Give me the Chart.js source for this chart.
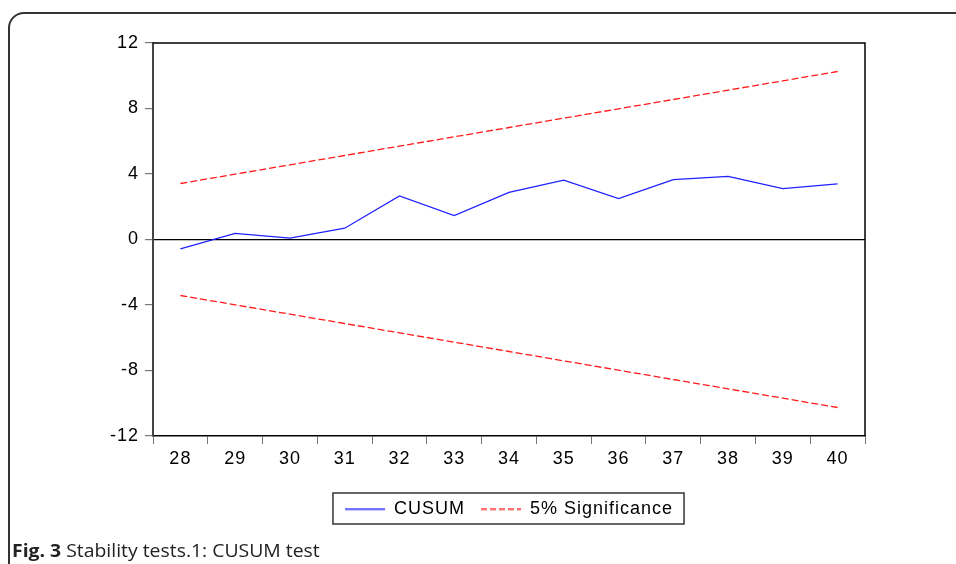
<!DOCTYPE html>
<html lang="en">
<head>
    <meta charset="UTF-8">
    <title>CUSUM test</title>
    <script src="https://cdn.jsdelivr.net/npm/chart.js"></script>
    <style>
        body { margin: 0; background: #fff; }
        #wrap { position: relative; width: 956px; height: 564px; overflow: hidden; }
        #frame {
            position: absolute; left: 8px; top: 12px; width: 1200px; height: 800px;
            border: 2px solid #333; border-radius: 16px; box-sizing: border-box;
        }
        #chart { position: absolute; left: 0; top: 0; }
        #caption {
            position: absolute; left: 12px; top: 538px; white-space: nowrap;
            font-family: "Open Sans", sans-serif; font-size: 18px; color: #222;
            transform-origin: 0 0;
        }
        #caption b { font-weight: 700; }
    </style>
</head>
<body>
    <div id="wrap">
        <div id="frame"></div>
        <canvas id="chart" width="956" height="564"></canvas>
        <div id="caption"><b>Fig. 3</b> Stability tests.1: CUSUM test</div>
    </div>
    <script>
        const periods = ['28', '29', '30', '31', '32', '33', '34', '35', '36', '37', '38', '39', '40'];
        const cusum = [-0.57, 0.37, 0.08, 0.69, 2.66, 1.46, 2.88, 3.62, 2.50, 3.66, 3.86, 3.11, 3.40];
        const upper5 = [3.42, 3.99, 4.56, 5.13, 5.70, 6.27, 6.84, 7.41, 7.98, 8.55, 9.12, 9.69, 10.26];
        const lower5 = [-3.42, -3.99, -4.56, -5.13, -5.70, -6.27, -6.84, -7.41, -7.98, -8.55, -9.12, -9.69, -10.26];
        const yTicks = [-12, -8, -4, 0, 4, 8, 12];

        const blue = '#2020ff';
        const red = '#ff1a1a';
        const dash = [7, 3];
        const tickFont = { family: '"Liberation Sans", Arial, sans-serif', size: 18 };

        // little line swatches for the legend (point style line ignores dashes)
        function swatch(color, lineDash) {
            const c = document.createElement('canvas');
            c.width = 40;
            c.height = 3;
            const g = c.getContext('2d');
            g.strokeStyle = color;
            g.lineWidth = 1.3;
            g.setLineDash(lineDash);
            g.beginPath();
            g.moveTo(0, 1.5);
            g.lineTo(40, 1.5);
            g.stroke();
            return c;
        }

        const spacing = {
            id: 'spacing',
            beforeLayout(chart) { chart.ctx.letterSpacing = '1px'; },
            beforeDraw(chart) { chart.ctx.letterSpacing = '1px'; }
        };

        // top/right edges of the plot box and the box round the legend
        const boxPlugin = {
            id: 'boxes',
            afterDraw(chart) {
                const { ctx, chartArea: a, legend } = chart;
                ctx.save();
                ctx.strokeStyle = '#000';
                ctx.lineWidth = 1.5;
                ctx.beginPath();
                ctx.moveTo(a.left, a.top);
                ctx.lineTo(a.right, a.top);
                ctx.lineTo(a.right, a.bottom);
                ctx.stroke();

                const hb = legend.legendHitBoxes;
                if (hb && hb.length) {
                    const first = hb[0], last = hb[hb.length - 1];
                    const cy = first.top + first.height / 2;
                    const x0 = first.left - 12;
                    const x1 = last.left + last.width + 11;
                    ctx.strokeStyle = '#333';
                    ctx.lineWidth = 1.5;
                    ctx.strokeRect(x0, cy - 16, x1 - x0, 31);
                }
                ctx.restore();
            }
        };

        const ctx = document.getElementById('chart').getContext('2d');
        new Chart(ctx, {
            type: 'line',
            data: {
                labels: periods,
                datasets: [
                    {
                        label: 'CUSUM',
                        data: cusum,
                        borderColor: blue,
                        borderWidth: 1.3,
                        pointRadius: 0,
                        pointStyle: swatch(blue, [])
                    },
                    {
                        label: '5% Significance',
                        data: upper5,
                        borderColor: red,
                        borderWidth: 1.3,
                        borderDash: dash,
                        pointRadius: 0,
                        pointStyle: swatch(red, [6, 3])
                    },
                    {
                        label: 'lower',
                        data: lower5,
                        borderColor: red,
                        borderWidth: 1.3,
                        borderDash: dash,
                        pointRadius: 0
                    }
                ]
            },
            options: {
                responsive: false,
                animation: false,
                layout: { padding: { top: 43, left: 0, right: 91, bottom: 36 } },
                plugins: {
                    tooltip: { enabled: false },
                    legend: {
                        position: 'bottom',
                        fullSize: false,
                        labels: {
                            font: tickFont,
                            color: '#000',
                            usePointStyle: true,
                            pointStyleWidth: 40,
                            padding: 16,
                            filter: item => item.datasetIndex < 2
                        }
                    }
                },
                scales: {
                    x: {
                        type: 'category',
                        offset: true,
                        afterFit: s => { s.height = 48; },
                        grid: {
                            offset: true,
                            drawOnChartArea: false,
                            tickLength: 8,
                            tickColor: '#777'
                        },
                        border: { display: true, color: '#000', width: 1.5 },
                        ticks: { font: tickFont, color: '#000', padding: 4, maxRotation: 0, autoSkip: false }
                    },
                    y: {
                        min: -12,
                        max: 12,
                        afterFit: s => { s.width = 153; },
                        afterBuildTicks: s => { s.ticks = yTicks.map(v => ({ value: v })); },
                        grid: {
                            color: c => (c.tick && c.tick.value === 0 ? '#000' : 'rgba(0,0,0,0)'),
                            lineWidth: 1.2,
                            tickLength: 8,
                            tickColor: '#777'
                        },
                        border: { display: true, color: '#444', width: 2 },
                        ticks: { font: tickFont, color: '#000', padding: 6 }
                    }
                }
            },
            plugins: [spacing, boxPlugin]
        });

        // squeeze the caption to the width it has in the figure
        const cap = document.getElementById('caption');
        cap.style.transform = 'scaleX(' + (308 / cap.offsetWidth) + ')';
    </script>
</body>
</html>
